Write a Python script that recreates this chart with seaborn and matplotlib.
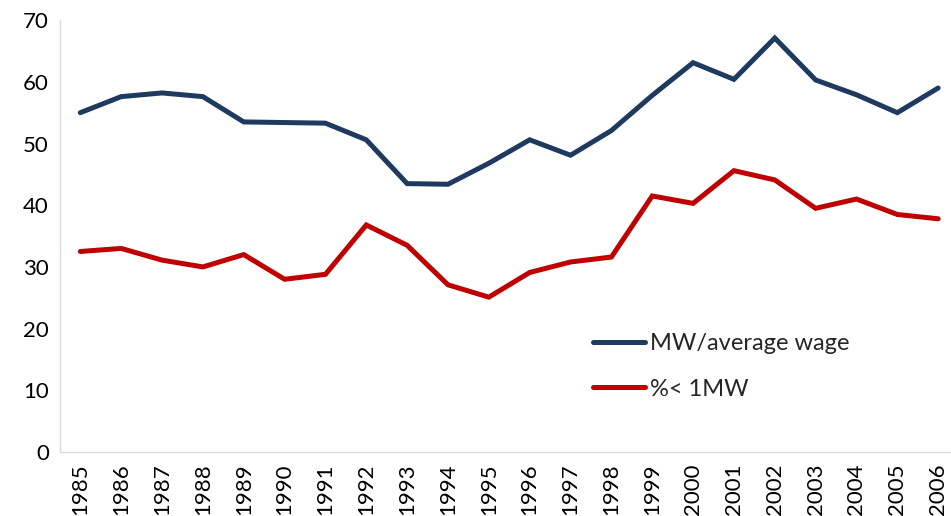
import numpy as np
import pandas as pd
import matplotlib
matplotlib.use("Agg")
import matplotlib.pyplot as plt
import seaborn as sns

# ---------------------------------------------------------------
# data
# ---------------------------------------------------------------
YEARS = list(range(1985, 2007))
MW_AVG_WAGE = [55.0, 57.6, 58.2, 57.6, 53.5, 53.4, 53.3, 50.6, 43.5, 43.4,
               46.8, 50.6, 48.1, 52.1, 57.8, 63.1, 60.4, 67.1, 60.3, 57.9,
               55.0, 59.0]
PCT_BELOW_1MW = [32.5, 33.0, 31.1, 30.0, 32.0, 28.0, 28.8, 36.8, 33.5, 27.1,
                 25.1, 29.1, 30.8, 31.6, 41.5, 40.3, 45.6, 44.1, 39.5, 41.0,
                 38.5, 37.8]
SERIES_NAMES = ["MW/average wage", "%< 1MW"]
COLORS = ["#1F3A5F", "#C00000"]
Y_TICKS = [0, 10, 20, 30, 40, 50, 60, 70]

sns.set_theme(style="white")
plt.rcParams["font.family"] = ["Lato", "DejaVu Sans"]

df = pd.DataFrame({
    "year": YEARS * 2,
    "value": MW_AVG_WAGE + PCT_BELOW_1MW,
    "series": [SERIES_NAMES[0]] * len(YEARS) + [SERIES_NAMES[1]] * len(YEARS),
})

fig = plt.figure(figsize=(9.51, 5.16), dpi=100)
ax = fig.add_axes([0.063, 0.124, 0.945, 0.837])

sns.lineplot(data=df, x="year", y="value", hue="series",
             palette=COLORS, linewidth=3.6, ax=ax,
             solid_capstyle="round", solid_joinstyle="miter")

ax.set_xlim(YEARS[0] - 0.5, YEARS[-1] + 0.5)
ax.set_ylim(0, 70)
ax.set_xticks(YEARS)
ax.set_xticklabels([str(y) for y in YEARS], rotation=90, fontsize=16)
ax.set_yticks(Y_TICKS)
ax.set_yticklabels([str(t) for t in Y_TICKS], fontsize=16)
ax.tick_params(axis="both", length=0, pad=8, colors="black")
ax.set_xlabel("")
ax.set_ylabel("")

for side in ["top", "right"]:
    ax.spines[side].set_visible(False)
for side in ["left", "bottom"]:
    ax.spines[side].set_color("#D9D9D9")
    ax.spines[side].set_linewidth(1.0)

ax.legend(loc="upper left", bbox_to_anchor=(0.593, 0.276), frameon=False,
          fontsize=17, handlelength=2.2, handletextpad=0.2,
          labelspacing=1.05, borderpad=0, borderaxespad=0)

fig.savefig("out.png", dpi=100)
